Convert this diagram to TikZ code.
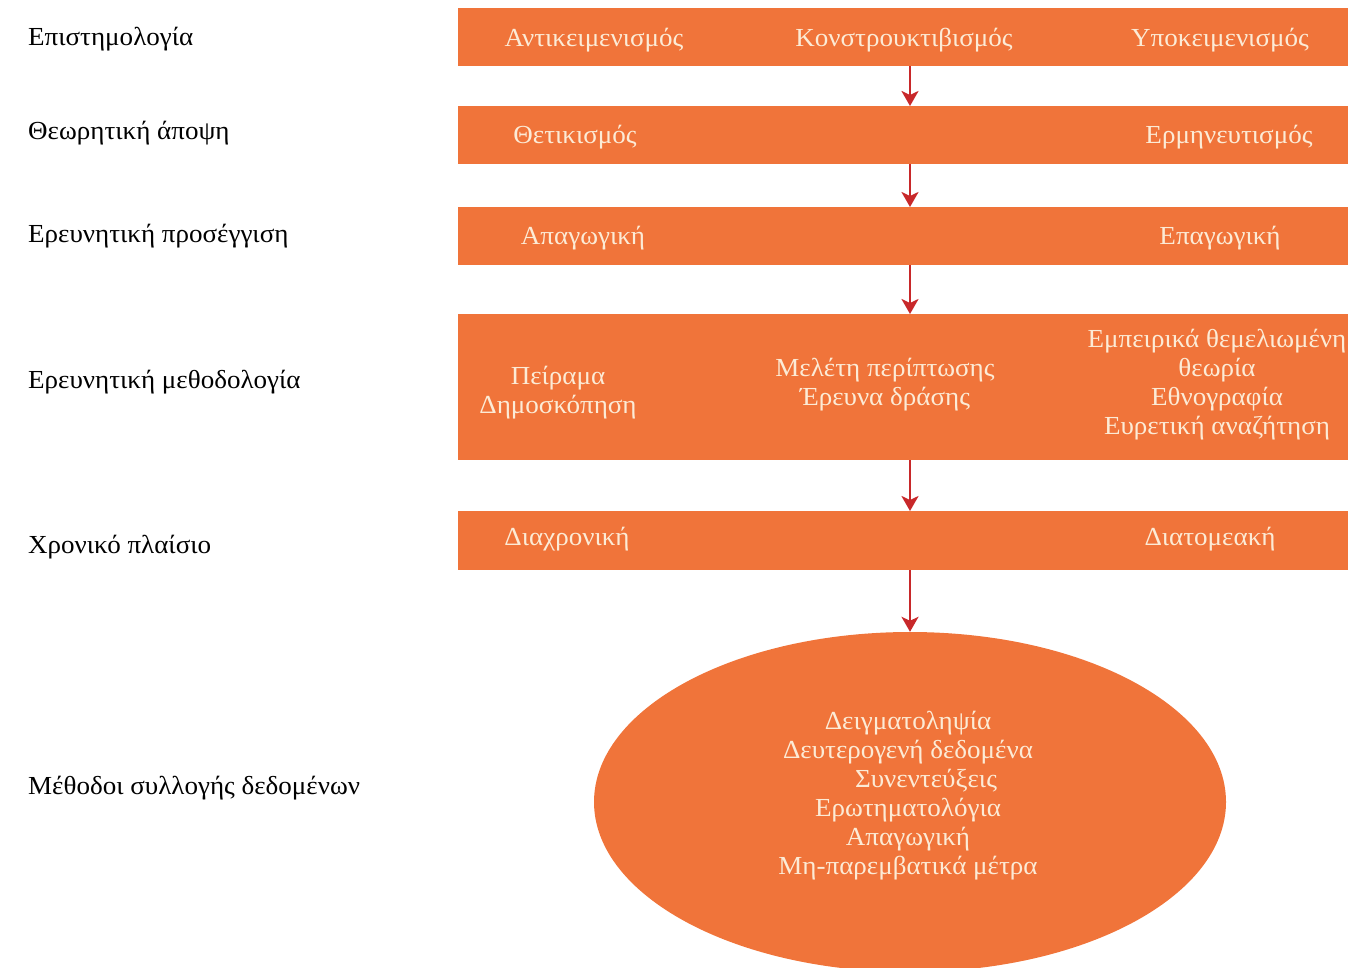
\documentclass[tikz,border=0pt]{standalone}
\usepackage{fontspec}
\setmainfont[FakeStretch=1.04]{Liberation Serif}
\usetikzlibrary{arrows.meta,shapes.geometric}
\definecolor{barorange}{HTML}{F0743A}
\definecolor{bartext}{HTML}{FCEBD6}
\definecolor{arrred}{HTML}{C8282A}
\begin{document}
\begin{tikzpicture}[x=1pt,y=-1pt,
  bar/.style={fill=barorange,draw=none,rectangle,minimum width=890pt,inner sep=0pt,anchor=north west},
  btext/.style={text=bartext,font=\fontsize{26}{29}\selectfont,align=center,inner sep=0pt},
  ltext/.style={text=black,font=\fontsize{26}{29}\selectfont,anchor=west,inner sep=0pt},
  arr/.style={draw=arrred,line width=2.6pt,-{Stealth[length=15pt,width=17pt,inset=4pt]}}]
\useasboundingbox (0,0) rectangle (1348,967);
\clip (0,0) rectangle (1348,967);
% bars
\node[bar,minimum height=58pt] (b1) at (458,8) {};
\node[bar,minimum height=58pt] (b2) at (458,106) {};
\node[bar,minimum height=58pt] (b3) at (458,207) {};
\node[bar,minimum height=146pt] (b4) at (458,314) {};
\node[bar,minimum height=59pt] (b5) at (458,511) {};
\node[ellipse,fill=barorange,draw=none,minimum width=632pt,minimum height=340pt] (el) at (910,802) {};
\coordinate (ax) at (910,0);
% arrows
\draw[arr] (b1.south -| ax) -- (b2.north -| ax);
\draw[arr] (b2.south -| ax) -- (b3.north -| ax);
\draw[arr] (b3.south -| ax) -- (b4.north -| ax);
\draw[arr] (b4.south -| ax) -- (b5.north -| ax);
\draw[arr] (b5.south -| ax) -- (el.north);
% left labels
\node[ltext] (l1) at (28,39) {Επιστημολογία};
\node[ltext] (l2) at (28,133) {Θεωρητική άποψη};
\node[ltext] (l3) at (28,236) {Ερευνητική προσέγγιση};
\node[ltext] (l4) at (28,382) {Ερευνητική μεθοδολογία};
\node[ltext] (l5) at (28,547) {Χρονικό πλαίσιο};
\node[ltext] (l6) at (28,788) {Μέθοδοι συλλογής δεδομένων};
% bar texts
\node[btext] (t11) at (594,40) {Αντικειμενισμός};
\node[btext] (t12) at (904,40) {Κονστρουκτιβισμός};
\node[btext] (t13) at (1220,40) {Υποκειμενισμός};
\node[btext] (t21) at (575,137) {Θετικισμός};
\node[btext] (t22) at (1229,137) {Ερμηνευτισμός};
\node[btext] (t31) at (583,238) {Απαγωγική};
\node[btext] (t32) at (1220,238) {Επαγωγική};
\node[btext] (t41) at (558,393) {Πείραμα\\Δημοσκόπηση};
\node[btext] (t42) at (885,385) {Μελέτη περίπτωσης\\Έρευνα δράσης};
\node[btext] (t43) at (1217,385) {Εμπειρικά θεμελιωμένη\\θεωρία\\Εθνογραφία\\Ευρετική αναζήτηση};
\node[btext] (t51) at (567,539) {Διαχρονική};
\node[btext] (t52) at (1210,539) {Διατομεακή};
\node[btext] (te) at (908,796) {Δειγματοληψία\\Δευτερογενή δεδομένα\\\hspace*{36pt}Συνεντεύξεις\\Ερωτηματολόγια\\Απαγωγική\\Μη-παρεμβατικά μέτρα};
\end{tikzpicture}
\end{document}
